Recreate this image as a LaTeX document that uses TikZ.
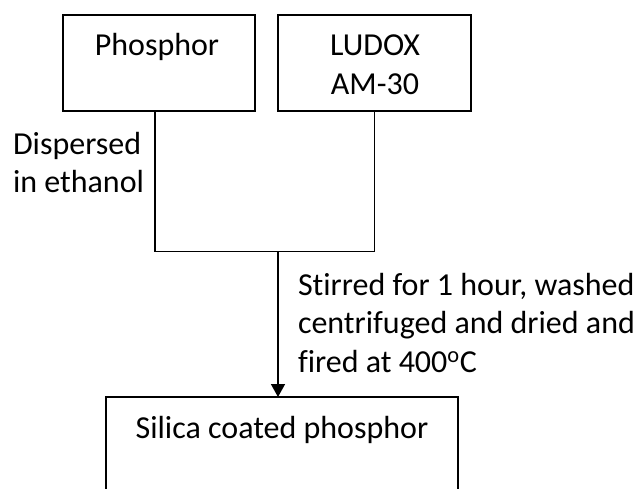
\documentclass[tikz,border=0pt]{standalone}
\usepackage{fontspec}
\setmainfont[Ligatures=NoCommon]{Carlito}
\usetikzlibrary{arrows.meta}
\newcommand\myfs{\fontsize{32}{38.5}\selectfont}
\begin{document}
\begin{tikzpicture}[x=1pt,y=-1pt,
  box/.style={draw, line width=1.6pt, inner sep=0pt, outer sep=0pt},
  txt/.style={inner sep=0pt, outer sep=0pt, font=\myfs},
  conn/.style={draw, line width=1.6pt},
  arr/.style={-{Triangle[width=14pt,length=13pt]}}]
\useasboundingbox (0,0) rectangle (639,488);
\clip (0,0) rectangle (639,488);
% boxes
\node[box, minimum width=192pt, minimum height=96pt] (phos) at (159,63) {};
\node[box, minimum width=193pt, minimum height=96pt] (ludox) at (374.5,63) {};
\node[box, minimum width=352pt, minimum height=123pt] (silica) at (282,458.5) {};
% box texts
\node[txt, anchor=base] (tphos) at (157,55.5) {Phosphor};
\node[txt, anchor=base] (tludox) at (375,55.5) {\begin{tabular}[t]{@{}c@{}}LUDOX\\AM-30\end{tabular}};
\node[txt, anchor=base] (tsilica) at (282,438) {Silica coated phosphor};
% connector labels
\node[txt, anchor=base west] (tdisp) at (13,154) {\begin{tabular}[t]{@{}l@{}}Dispersed\\in ethanol\end{tabular}};
\node[txt, anchor=base west] (tstir) at (298,295) {\begin{tabular}[t]{@{}l@{}}Stirred for 1 hour, washed\\centrifuged and dried and\\fired at 400\textsuperscript{o}C\end{tabular}};
% connectors
\coordinate (jn) at (278,251.5);
\draw[conn] ([xshift=-4pt]phos.south) |- (jn) -| (ludox.south);
\draw[conn, arr] (jn) -- (jn |- silica.north);
\end{tikzpicture}
\end{document}
